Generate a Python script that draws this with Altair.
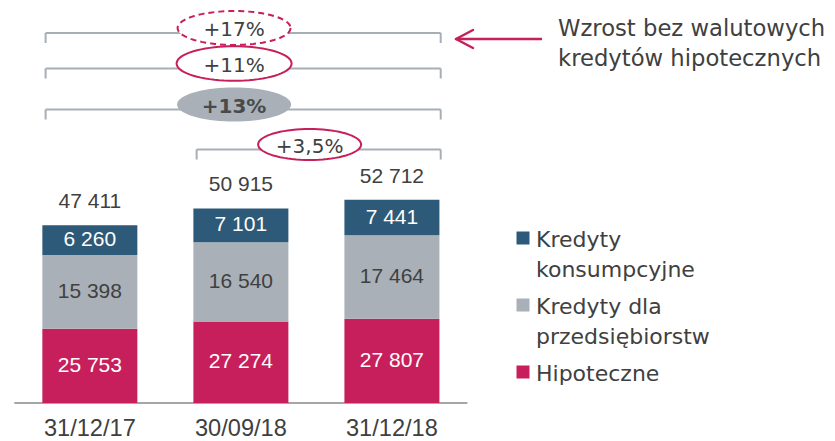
import altair as alt
import numpy as np
import pandas as pd

# ---------------- data ----------------
dates = ["31/12/17", "30/09/18", "31/12/18"]
series = ["Kredyty konsumpcyjne", "Kredyty dla przedsiębiorstw", "Hipoteczne"]
konsumpcyjne = [6260, 7101, 7441]
przedsiebiorstwa = [15398, 16540, 17464]
hipoteczne = [25753, 27274, 27807]
totals = [47411, 50915, 52712]
growth_labels = ["+17%", "+11%", "+13%", "+3,5%"]
growth_from = [0, 0, 0, 1]
growth_to = [2, 2, 2, 2]
note_text = "Wzrost bez walutowych\nkredytów hipotecznych"

# ---------------- style / layout ----------------
PINK, GRAY, BLUE = "#C71F5B", "#A9B0B8", "#2D5A78"
TEXT, LINE = "#404040", "#A7AEB5"
W, H = 819, 433
BASE_PX = 395            # pixel row of the category baseline
AXIS_START = 10200       # value axis starts here (broken axis in the original)
PX_PER_UNIT = 0.00478
STEP_PX, FIRST_PX, BAR_PX = 152.9, 77.8, 95
NUM_FONT, WORD_FONT = "Liberation Sans", "DejaVu Sans"

bracket_px = [25, 60.5, 101.5, 141.5]    # bracket rows (px from top)
ellipse_w = [113, 115, 114, 103]
ellipse_style = ["dashed", "solid", "filled", "solid"]


def px_to_y(px):
    return AXIS_START + (BASE_PX - px) / PX_PER_UNIT


xscale = alt.Scale(domain=[-FIRST_PX / STEP_PX, (W - FIRST_PX) / STEP_PX],
                   range=[0, W], nice=False, zero=False)
yscale = alt.Scale(domain=[AXIS_START, px_to_y(0)], range=[BASE_PX, 0],
                   nice=False, zero=False, clamp=True)
X = lambda f: alt.X(f, scale=xscale, axis=None)
Y = lambda f, **k: alt.Y(f, scale=yscale, axis=None, **k)

fmt = lambda v: f"{v:,}".replace(",", " ")

# stacked segments
seg_rows, lab_rows = [], []
for i, d in enumerate(dates):
    cum = 0
    for order, (s, vals) in enumerate(zip(series[::-1], [hipoteczne, przedsiebiorstwa, konsumpcyjne])):
        v = vals[i]
        seg_rows.append(dict(idx=i, date=d, series=s, value=v, order=order))
        lo, hi = cum, cum + v
        lab_rows.append(dict(idx=i, series=s, mid=(max(lo, AXIS_START) + hi) / 2,
                             label=fmt(v), dark=int(s == series[1])))
        cum = hi
seg = pd.DataFrame(seg_rows)
labs = pd.DataFrame(lab_rows)
tot = pd.DataFrame(dict(idx=list(range(len(dates))), date=dates, total=totals,
                        label=[fmt(t) for t in totals]))

legend = alt.Legend(
    title=None, orient="none", legendX=504, legendY=219, padding=0,
    symbolType="square", symbolSize=169, symbolStrokeWidth=0,
    labelFont=WORD_FONT, labelFontSize=22, labelColor=TEXT, labelOffset=2,
    labelLimit=500, rowPadding=13, labelBaseline="top",
    labelExpr="split(replace(datum.label, regexp(' (?=[^ ]+$)'), '|'), '|')",
)

bars = alt.Chart(seg).mark_bar(width=BAR_PX).encode(
    x=X("idx:Q"),
    y=Y("value:Q", stack="zero"),
    color=alt.Color("series:N", scale=alt.Scale(domain=series, range=[BLUE, GRAY, PINK]),
                    legend=legend),
    order=alt.Order("order:Q", sort="ascending"),
)

seg_text_white = alt.Chart(labs[labs.dark == 0]).mark_text(
    font=NUM_FONT, fontSize=21, color="white", baseline="middle").encode(
    x=X("idx:Q"), y=Y("mid:Q"), text="label:N")
seg_text_dark = alt.Chart(labs[labs.dark == 1]).mark_text(
    font=NUM_FONT, fontSize=21, color=TEXT, baseline="middle").encode(
    x=X("idx:Q"), y=Y("mid:Q"), text="label:N")
tot_text = alt.Chart(tot).mark_text(
    font=NUM_FONT, fontSize=21, color=TEXT, baseline="middle", dy=-23).encode(
    x=X("idx:Q"), y=Y("total:Q"), text="label:N")
tot["base"] = AXIS_START
cat_text = alt.Chart(tot).mark_text(
    font=NUM_FONT, fontSize=23.6, color=TEXT, baseline="alphabetic", dy=33).encode(
    x=X("idx:Q"), y=Y("base:Q"), text="date:N")

base_df = pd.DataFrame(dict(a=[-0.5], b=[len(dates) - 0.5], y=[AXIS_START]))
baseline = alt.Chart(base_df).mark_rule(color="#A6A6A6", strokeWidth=2).encode(
    x=X("a:Q"), x2="b:Q", y=Y("y:Q"))

# growth brackets
br = pd.DataFrame(dict(
    label=growth_labels, a=[f - 0.293 for f in growth_from], b=[t + 0.323 for t in growth_to],
    y=[px_to_y(p) for p in bracket_px], ytick=[px_to_y(p + 10) for p in bracket_px],
    ec=[(f + t) / 2 - 0.045 for f, t in zip(growth_from, growth_to)],
    ey=[px_to_y(p - 5) for p in bracket_px],
    ty=[px_to_y(p - 3) for p in bracket_px],
    style=ellipse_style))

br_line = alt.Chart(br).mark_rule(color=LINE, strokeWidth=2).encode(
    x=X("a:Q"), x2="b:Q", y=Y("y:Q"))
br_tick_a = alt.Chart(br).mark_rule(color=LINE, strokeWidth=2).encode(
    x=X("a:Q"), y=Y("y:Q"), y2="ytick:Q")
br_tick_b = alt.Chart(br).mark_rule(color=LINE, strokeWidth=2).encode(
    x=X("b:Q"), y=Y("y:Q"), y2="ytick:Q")

t = np.linspace(0, 2 * np.pi, 72, endpoint=False)
ELLIPSE = "M" + "L".join(f"{np.cos(a):.4f},{0.3 * np.sin(a):.4f}" for a in t) + "Z"

ellipses = []
for k, style in enumerate(ellipse_style):
    mk = dict(shape=ELLIPSE, opacity=1, size=ellipse_w[k] ** 2)
    if style == "filled":
        mk.update(filled=True, fill=GRAY, fillOpacity=1, strokeWidth=0)
    else:
        mk.update(filled=True, fill="white", fillOpacity=1, stroke=PINK,
                  strokeOpacity=1, strokeWidth=2)
        if style == "dashed":
            mk.update(strokeDash=[6, 4])
    ellipses.append(alt.Chart(br.iloc[[k]]).mark_point(**mk).encode(
        x=X("ec:Q"), y=Y("ey:Q")))

pct_regular = alt.Chart(br[br["style"] != "filled"]).mark_text(
    font=WORD_FONT, fontSize=20, color=TEXT, baseline="middle").encode(
    x=X("ec:Q"), y=Y("ty:Q"), text="label:N")
pct_bold = alt.Chart(br[br["style"] == "filled"]).mark_text(
    font=WORD_FONT, fontSize=20, fontWeight="bold", color="#4A4A4A", baseline="middle").encode(
    x=X("ec:Q"), y=Y("ty:Q"), text="label:N")

# note + arrow
one = pd.DataFrame(dict(note=[note_text]))
note = alt.Chart(one).mark_text(
    font=WORD_FONT, fontSize=22.7, color=TEXT, align="left", baseline="alphabetic",
    lineBreak="\n", lineHeight=30).encode(
    x=alt.value(550), y=alt.value(27.7), text="note:N")
arrow_shaft = alt.Chart(one).mark_rule(color=PINK, strokeWidth=2.5).encode(
    x=alt.value(448), x2=alt.value(534), y=alt.value(31))
arrow_up = alt.Chart(one).mark_rule(color=PINK, strokeWidth=2.5, strokeCap="round").encode(
    x=alt.value(448), x2=alt.value(465), y=alt.value(31), y2=alt.value(22))
arrow_dn = alt.Chart(one).mark_rule(color=PINK, strokeWidth=2.5, strokeCap="round").encode(
    x=alt.value(448), x2=alt.value(465), y=alt.value(31), y2=alt.value(40))

chart = alt.layer(
    baseline, bars, seg_text_white, seg_text_dark, tot_text, cat_text,
    br_line, br_tick_a, br_tick_b, *ellipses,
    pct_regular, pct_bold, note, arrow_shaft, arrow_up, arrow_dn,
).properties(width=W, height=H, autosize=alt.AutoSizeParams(type="none"), padding=0
).configure(
    style={"guide-label": {"lineHeight": 30, "dy": -8}}
).configure_view(stroke=None)

chart.save("out.html", embed_options={"renderer": "svg", "actions": False})
